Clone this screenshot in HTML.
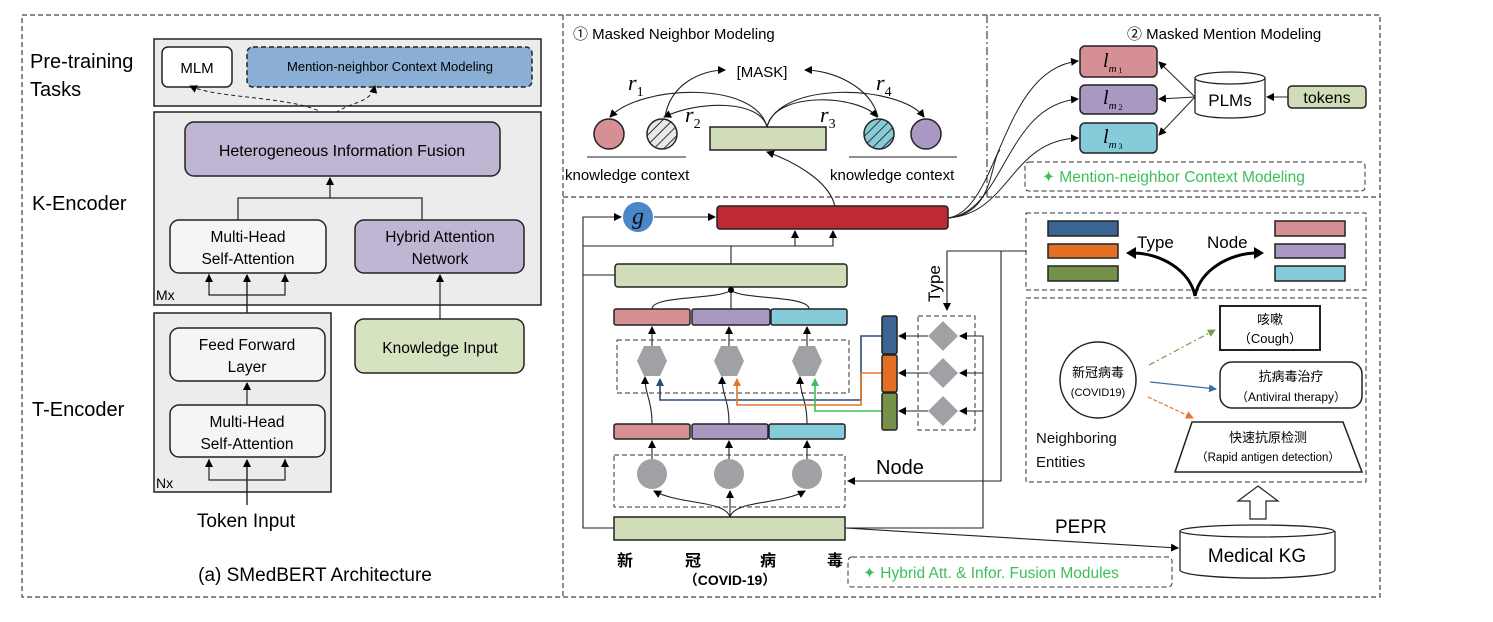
<!DOCTYPE html>
<html><head><meta charset="utf-8"><style>
html,body{margin:0;padding:0;background:#fff;}
svg{display:block;}
text{font-family:"Liberation Sans","Noto Sans CJK SC",sans-serif;}
.s{font-family:"Liberation Serif",serif;font-style:italic;}
</style></head><body>
<svg width="1493" height="622" viewBox="0 0 1493 622" xmlns="http://www.w3.org/2000/svg">
<defs>
<marker id="a" markerWidth="8" markerHeight="8" refX="7" refY="4" orient="auto" markerUnits="userSpaceOnUse"><path d="M0,0 L8,4 L0,8 z" fill="#000"/></marker>
<marker id="ab" markerWidth="8" markerHeight="8" refX="7" refY="4" orient="auto" markerUnits="userSpaceOnUse"><path d="M0,0 L8,4 L0,8 z" fill="#2c4a7a"/></marker>
<marker id="ao" markerWidth="8" markerHeight="8" refX="7" refY="4" orient="auto" markerUnits="userSpaceOnUse"><path d="M0,0 L8,4 L0,8 z" fill="#e8742a"/></marker>
<marker id="ag" markerWidth="8" markerHeight="8" refX="7" refY="4" orient="auto" markerUnits="userSpaceOnUse"><path d="M0,0 L8,4 L0,8 z" fill="#3cbf5a"/></marker>
<marker id="ae" markerWidth="8" markerHeight="8" refX="7" refY="4" orient="auto" markerUnits="userSpaceOnUse"><path d="M0,0 L8,4 L0,8 z" fill="#7a9a4a"/></marker>
<marker id="abl" markerWidth="8" markerHeight="8" refX="7" refY="4" orient="auto" markerUnits="userSpaceOnUse"><path d="M0,0 L8,4 L0,8 z" fill="#3d6ea8"/></marker>
<pattern id="h1" patternUnits="userSpaceOnUse" width="7" height="7" patternTransform="rotate(45)"><rect width="7" height="7" fill="#e8e8e8"/><line x1="0" y1="0" x2="0" y2="7" stroke="#333" stroke-width="2"/></pattern>
<pattern id="h2" patternUnits="userSpaceOnUse" width="7" height="7" patternTransform="rotate(45)"><rect width="7" height="7" fill="#86cbd9"/><line x1="0" y1="0" x2="0" y2="7" stroke="#333" stroke-width="2"/></pattern>
</defs>

<g fill="none" stroke="#444" stroke-width="1.2" stroke-dasharray="5,3">
<rect x="22" y="15" width="1358" height="582"/>
<line x1="563" y1="15" x2="563" y2="597"/>
<line x1="563" y1="197" x2="1380" y2="197"/>
</g>
<line x1="987" y1="15" x2="987" y2="197" stroke="#444" stroke-width="1.2" stroke-dasharray="8,3,2,3"/>

<rect x="154" y="39" width="387" height="67" fill="#ececec" stroke="#222" stroke-width="1.5"/>
<rect x="162" y="47" width="70" height="40" rx="6" fill="#fff" stroke="#222" stroke-width="1.5"/>
<text x="197" y="73" font-size="15" text-anchor="middle">MLM</text>
<rect x="247" y="47" width="285" height="40" rx="6" fill="#8aaed4" stroke="#222" stroke-width="1.5" stroke-dasharray="5,3"/>
<text x="390" y="71" font-size="13" text-anchor="middle">Mention-neighbor Context Modeling</text>
<text x="30" y="68" font-size="20">Pre-training</text>
<text x="30" y="96" font-size="20">Tasks</text>
<path d="M330,117 C300,95 220,100 190,86" fill="none" stroke="#222" stroke-dasharray="4,3" marker-end="url(#a)"/>
<path d="M330,117 C350,100 370,105 375,86" fill="none" stroke="#222" stroke-dasharray="4,3" marker-end="url(#a)"/>

<rect x="154" y="112" width="387" height="193" fill="#ececec" stroke="#222" stroke-width="1.5"/>
<rect x="185" y="122" width="315" height="54" rx="9" fill="#c0b5d2" stroke="#222" stroke-width="1.5"/>
<text x="342" y="156" font-size="16" text-anchor="middle">Heterogeneous Information Fusion</text>
<text x="32" y="210" font-size="20">K-Encoder</text>
<path d="M238,220 V198 H422 V220 M330,198 V178" fill="none" stroke="#222" stroke-width="1.2"/>
<line x1="330" y1="198" x2="330" y2="178" stroke="#222" marker-end="url(#a)"/>
<rect x="170" y="220" width="156" height="53" rx="9" fill="#f5f5f5" stroke="#222" stroke-width="1.5"/>
<text x="248" y="242" font-size="15.5" text-anchor="middle">Multi-Head</text>
<text x="248" y="264" font-size="15.5" text-anchor="middle">Self-Attention</text>
<rect x="355" y="220" width="169" height="53" rx="9" fill="#c0b5d2" stroke="#222" stroke-width="1.5"/>
<text x="440" y="242" font-size="15.5" text-anchor="middle">Hybrid Attention</text>
<text x="440" y="264" font-size="15.5" text-anchor="middle">Network</text>
<text x="156" y="300" font-size="14">Mx</text>
<path d="M209,274 V295 H285 V274" fill="none" stroke="#222" stroke-width="1.2"/>
<line x1="209" y1="295" x2="209" y2="275" stroke="#222" marker-end="url(#a)"/>
<line x1="285" y1="295" x2="285" y2="275" stroke="#222" marker-end="url(#a)"/>
<line x1="247" y1="328" x2="247" y2="275" stroke="#222" stroke-width="1.4" marker-end="url(#a)"/>
<line x1="440" y1="319" x2="440" y2="275" stroke="#222" stroke-width="1.2" marker-end="url(#a)"/>

<rect x="154" y="313" width="177" height="179" fill="#ececec" stroke="#222" stroke-width="1.5"/>
<rect x="170" y="328" width="155" height="53" rx="9" fill="#f5f5f5" stroke="#222" stroke-width="1.5"/>
<text x="247" y="350" font-size="15.5" text-anchor="middle">Feed Forward</text>
<text x="247" y="372" font-size="15.5" text-anchor="middle">Layer</text>
<line x1="247" y1="405" x2="247" y2="383" stroke="#222" stroke-width="1.2" marker-end="url(#a)"/>
<rect x="170" y="405" width="155" height="52" rx="9" fill="#f5f5f5" stroke="#222" stroke-width="1.5"/>
<text x="247" y="427" font-size="15.5" text-anchor="middle">Multi-Head</text>
<text x="247" y="449" font-size="15.5" text-anchor="middle">Self-Attention</text>
<text x="156" y="488" font-size="14">Nx</text>
<path d="M209,459 V480 H285 V459" fill="none" stroke="#222" stroke-width="1.2"/>
<line x1="209" y1="480" x2="209" y2="460" stroke="#222" marker-end="url(#a)"/>
<line x1="285" y1="480" x2="285" y2="460" stroke="#222" marker-end="url(#a)"/>
<line x1="247" y1="505" x2="247" y2="460" stroke="#222" stroke-width="1.4" marker-end="url(#a)"/>
<text x="32" y="416" font-size="20">T-Encoder</text>
<rect x="355" y="319" width="169" height="54" rx="9" fill="#d5e3c0" stroke="#222" stroke-width="1.5"/>
<text x="440" y="353" font-size="15.5" text-anchor="middle">Knowledge Input</text>
<text x="246" y="527" font-size="19" text-anchor="middle">Token Input</text>
<text x="315" y="581" font-size="19" text-anchor="middle">(a) SMedBERT Architecture</text>

<text x="573" y="39" font-size="15">① Masked Neighbor Modeling</text>
<text x="762" y="77" font-size="15" text-anchor="middle">[MASK]</text>
<circle cx="609" cy="134" r="15" fill="#d68f92" stroke="#222" stroke-width="1.5"/>
<circle cx="662" cy="134" r="15" fill="url(#h1)" stroke="#222" stroke-width="1.5"/>
<circle cx="879" cy="134" r="15" fill="url(#h2)" stroke="#222" stroke-width="1.5"/>
<circle cx="926" cy="134" r="15" fill="#a898c2" stroke="#222" stroke-width="1.5"/>
<rect x="710" y="127" width="116" height="23" fill="#d0ddb8" stroke="#222" stroke-width="1.5"/>
<line x1="587" y1="157" x2="686" y2="157" stroke="#222"/>
<line x1="849" y1="157" x2="957" y2="157" stroke="#222"/>
<text x="565" y="180" font-size="15">knowledge context</text>
<text x="830" y="180" font-size="15">knowledge context</text>
<text x="628" y="90" font-size="22" class="s">r<tspan font-size="14" dy="6" font-style="normal">1</tspan></text>
<text x="685" y="122" font-size="22" class="s">r<tspan font-size="14" dy="6" font-style="normal">2</tspan></text>
<text x="820" y="122" font-size="22" class="s">r<tspan font-size="14" dy="6" font-style="normal">3</tspan></text>
<text x="876" y="90" font-size="22" class="s">r<tspan font-size="14" dy="6" font-style="normal">4</tspan></text>
<g fill="none" stroke="#222" stroke-width="1.1">
<path d="M767,127 C755,80 640,85 610,117" marker-end="url(#a)"/>
<path d="M767,127 C760,100 700,100 664,117" marker-end="url(#a)"/>
<path d="M767,127 C775,90 860,95 877,117" marker-end="url(#a)"/>
<path d="M767,127 C780,80 900,85 924,117" marker-end="url(#a)"/>
<path d="M665,117 C670,85 700,70 725,70" marker-end="url(#a)"/>
<path d="M878,117 C870,85 830,70 805,70" marker-end="url(#a)"/>
<path d="M835,207 C830,180 790,160 767,152" marker-end="url(#a)"/>
</g>

<text x="1127" y="39" font-size="15">② Masked Mention Modeling</text>
<rect x="1080" y="46" width="77" height="31" rx="5" fill="#d68f92" stroke="#222" stroke-width="1.5"/>
<rect x="1080" y="85" width="77" height="29" rx="5" fill="#a898c2" stroke="#222" stroke-width="1.5"/>
<rect x="1080" y="123" width="77" height="30" rx="5" fill="#86cbd9" stroke="#222" stroke-width="1.5"/>
<text x="1103" y="67" font-size="20" class="s">l<tspan font-size="11" dy="5">m</tspan><tspan font-size="8" dy="1" font-style="normal"> 1</tspan></text>
<text x="1103" y="104" font-size="20" class="s">l<tspan font-size="11" dy="5">m</tspan><tspan font-size="8" dy="1" font-style="normal"> 2</tspan></text>
<text x="1103" y="143" font-size="20" class="s">l<tspan font-size="11" dy="5">m</tspan><tspan font-size="8" dy="1" font-style="normal"> 3</tspan></text>
<path d="M1195,78 V112 A35,6 0 0 0 1265,112 V78" fill="#fff" stroke="#222" stroke-width="1.3"/>
<ellipse cx="1230" cy="78" rx="35" ry="6" fill="#fff" stroke="#222" stroke-width="1.3"/>
<text x="1230" y="106" font-size="17" text-anchor="middle">PLMs</text>
<rect x="1288" y="86" width="78" height="22" rx="4" fill="#d0ddb8" stroke="#222" stroke-width="1.5"/>
<text x="1327" y="103" font-size="16" text-anchor="middle">tokens</text>
<g stroke="#222" fill="none" stroke-width="1">
<line x1="1288" y1="97" x2="1267" y2="97" marker-end="url(#a)"/>
<line x1="1195" y1="97" x2="1159" y2="62" marker-end="url(#a)"/>
<line x1="1195" y1="97" x2="1159" y2="99" marker-end="url(#a)"/>
<line x1="1195" y1="97" x2="1159" y2="135" marker-end="url(#a)"/>
<path d="M948,218 C1000,210 1000,70 1078,61" marker-end="url(#a)"/>
<path d="M948,218 C1005,212 1005,105 1078,99" marker-end="url(#a)"/>
<path d="M948,218 C1010,214 1010,140 1078,138" marker-end="url(#a)"/>
<path d="M948,218 C995,214 990,160 1000,150"/>
</g>
<rect x="1025" y="162" width="340" height="29" rx="4" fill="none" stroke="#333" stroke-dasharray="5,3"/>
<text x="1042" y="182" font-size="15.5" fill="#3cbf5a">✦ Mention-neighbor Context Modeling</text>

<circle cx="638" cy="217" r="15" fill="#4a86c8"/>
<text x="638" y="224" font-size="24" class="s" text-anchor="middle" fill="#111">g</text>
<rect x="717" y="206" width="231" height="23" rx="3" fill="#be2a32" stroke="#222" stroke-width="1.5"/>
<g stroke="#222" fill="none" stroke-width="1.1">
<path d="M614,528 H583 V217 H621" marker-end="url(#a)"/>
<line x1="654" y1="217" x2="715" y2="217" marker-end="url(#a)"/>
<path d="M583,246 H833 V231" marker-end="url(#a)"/>
<line x1="795" y1="246" x2="795" y2="231" marker-end="url(#a)"/>
<line x1="731" y1="264" x2="731" y2="246"/>
<line x1="583" y1="275" x2="615" y2="275"/>
</g>
<rect x="615" y="264" width="232" height="23" rx="3" fill="#d0ddb8" stroke="#222" stroke-width="1.5"/>
<g stroke="#222" fill="none" stroke-width="1.1">
<path d="M652,309 C652,295 720,300 731,290"/>
<path d="M809,309 C809,295 740,300 731,290"/>
<line x1="731" y1="309" x2="731" y2="290"/>
</g>
<circle cx="731" cy="290" r="3" fill="#000"/>
<rect x="614" y="309" width="76" height="16" rx="2" fill="#d68f92" stroke="#222" stroke-width="1.5"/>
<rect x="692" y="309" width="78" height="16" rx="2" fill="#a898c2" stroke="#222" stroke-width="1.5"/>
<rect x="771" y="309" width="76" height="16" rx="2" fill="#86cbd9" stroke="#222" stroke-width="1.5"/>
<rect x="617" y="340" width="232" height="53" fill="none" stroke="#333" stroke-dasharray="5,3"/>
<g fill="#a0a1a4">
<polygon points="637,361 644,346 660,346 667,361 660,376 644,376"/>
<polygon points="714,361 721,346 737,346 744,361 737,376 721,376"/>
<polygon points="792,361 799,346 815,346 822,361 815,376 799,376"/>
</g>
<g stroke="#222" fill="none" stroke-width="1.1">
<line x1="652" y1="346" x2="652" y2="327" marker-end="url(#a)"/>
<line x1="729" y1="346" x2="729" y2="327" marker-end="url(#a)"/>
<line x1="807" y1="346" x2="807" y2="327" marker-end="url(#a)"/>
<path d="M652,424 C652,400 645,395 645,377" marker-end="url(#a)"/>
<path d="M729,424 C729,400 722,395 722,377" marker-end="url(#a)"/>
<path d="M807,424 C807,400 800,395 800,377" marker-end="url(#a)"/>
</g>
<path d="M882,336 H861 V400 H660 V379" fill="none" stroke="#2c4a7a" stroke-width="1.6" marker-end="url(#ab)"/>
<path d="M882,373 H861 V405 H737 V379" fill="none" stroke="#e8742a" stroke-width="1.6" marker-end="url(#ao)"/>
<path d="M882,411 H815 V379" fill="none" stroke="#3cbf5a" stroke-width="1.6" marker-end="url(#ag)"/>
<rect x="614" y="424" width="76" height="15" rx="2" fill="#d68f92" stroke="#222" stroke-width="1.5"/>
<rect x="692" y="424" width="76" height="15" rx="2" fill="#a898c2" stroke="#222" stroke-width="1.5"/>
<rect x="769" y="424" width="76" height="15" rx="2" fill="#86cbd9" stroke="#222" stroke-width="1.5"/>
<rect x="614" y="455" width="231" height="52" fill="none" stroke="#333" stroke-dasharray="5,3"/>
<g fill="#a0a1a4"><circle cx="652" cy="474" r="15"/><circle cx="729" cy="474" r="15"/><circle cx="807" cy="474" r="15"/></g>
<g stroke="#222" fill="none" stroke-width="1.1">
<line x1="652" y1="459" x2="652" y2="441" marker-end="url(#a)"/>
<line x1="729" y1="459" x2="729" y2="441" marker-end="url(#a)"/>
<line x1="807" y1="459" x2="807" y2="441" marker-end="url(#a)"/>
<path d="M730,517 C725,500 680,505 654,491" marker-end="url(#a)"/>
<line x1="730" y1="517" x2="730" y2="491" marker-end="url(#a)"/>
<path d="M730,517 C735,500 780,505 805,491" marker-end="url(#a)"/>
</g>
<rect x="614" y="517" width="231" height="23" fill="#d0ddb8" stroke="#222" stroke-width="1.5"/>
<g font-size="16" font-weight="bold" font-family="'Noto Sans CJK SC',sans-serif">
<text x="617" y="566">新</text><text x="685" y="566">冠</text><text x="760" y="566">病</text><text x="827" y="566">毒</text>
</g>
<text x="730" y="585" font-size="14" font-weight="bold" text-anchor="middle">（COVID-19）</text>

<rect x="882" y="316" width="15" height="38" rx="2" fill="#3d6593" stroke="#222" stroke-width="1.5"/>
<rect x="882" y="355" width="15" height="37" rx="2" fill="#e36f25" stroke="#222" stroke-width="1.5"/>
<rect x="882" y="393" width="15" height="37" rx="2" fill="#76924a" stroke="#222" stroke-width="1.5"/>
<rect x="918" y="316" width="57" height="114" fill="none" stroke="#333" stroke-dasharray="5,3"/>
<g fill="#a0a1a4">
<polygon points="943,321 958,336 943,351 928,336"/>
<polygon points="943,358 958,373 943,388 928,373"/>
<polygon points="943,396 958,411 943,426 928,411"/>
</g>
<g stroke="#222" fill="none" stroke-width="1.1">
<line x1="928" y1="336" x2="899" y2="336" marker-end="url(#a)"/>
<line x1="928" y1="373" x2="899" y2="373" marker-end="url(#a)"/>
<line x1="928" y1="411" x2="899" y2="411" marker-end="url(#a)"/>
<path d="M845,528 H983 V336 H960" marker-end="url(#a)"/>
<line x1="983" y1="373" x2="960" y2="373" marker-end="url(#a)"/>
<line x1="983" y1="411" x2="960" y2="411" marker-end="url(#a)"/>
<path d="M1026,251 H947 V310" marker-end="url(#a)"/>
<path d="M1001,251 V481 H848" marker-end="url(#a)"/>
<path d="M845,528 L1178,548" marker-end="url(#a)"/>
</g>
<text x="940" y="302" font-size="17" transform="rotate(-90 940 302)">Type</text>
<text x="876" y="474" font-size="20">Node</text>
<rect x="848" y="557" width="324" height="30" rx="4" fill="none" stroke="#333" stroke-dasharray="5,3"/>
<text x="863" y="578" font-size="15.5" fill="#3cbf5a">✦ Hybrid Att. &amp; Infor. Fusion Modules</text>

<rect x="1026" y="213" width="340" height="77" fill="none" stroke="#333" stroke-dasharray="5,3"/>
<rect x="1048" y="221" width="70" height="15" fill="#3d6593" stroke="#222" stroke-width="1.5"/>
<rect x="1048" y="244" width="70" height="14" fill="#e36f25" stroke="#222" stroke-width="1.5"/>
<rect x="1048" y="266" width="70" height="15" fill="#76924a" stroke="#222" stroke-width="1.5"/>
<rect x="1275" y="221" width="70" height="15" fill="#d68f92" stroke="#222" stroke-width="1.5"/>
<rect x="1275" y="244" width="70" height="14" fill="#a898c2" stroke="#222" stroke-width="1.5"/>
<rect x="1275" y="266" width="70" height="15" fill="#86cbd9" stroke="#222" stroke-width="1.5"/>
<text x="1137" y="248" font-size="17">Type</text>
<text x="1207" y="248" font-size="17">Node</text>
<g fill="none" stroke="#000" stroke-width="3">
<path d="M1195,296 C1190,270 1160,253 1133,253"/>
<path d="M1195,296 C1200,270 1230,253 1257,253"/>
</g>
<path d="M1126,253 L1136,247 L1136,259 z" fill="#000"/>
<path d="M1264,253 L1254,247 L1254,259 z" fill="#000"/>
<rect x="1026" y="298" width="340" height="184" fill="none" stroke="#333" stroke-dasharray="5,3"/>
<circle cx="1098" cy="380" r="38" fill="#fff" stroke="#222" stroke-width="1.5"/>
<text x="1098" y="377" font-size="13" text-anchor="middle">新冠病毒</text>
<text x="1098" y="396" font-size="11" text-anchor="middle">(COVID19)</text>
<rect x="1220" y="306" width="100" height="44" fill="#fff" stroke="#222" stroke-width="2"/>
<text x="1270" y="324" font-size="13" text-anchor="middle">咳嗽</text>
<text x="1270" y="343" font-size="13" text-anchor="middle">（Cough）</text>
<rect x="1220" y="362" width="142" height="46" rx="12" fill="#fff" stroke="#222" stroke-width="1.5"/>
<text x="1291" y="381" font-size="13" text-anchor="middle">抗病毒治疗</text>
<text x="1291" y="401" font-size="12" text-anchor="middle">（Antiviral therapy）</text>
<polygon points="1192,422 1343,422 1362,472 1175,472" fill="#fff" stroke="#222" stroke-width="1.5"/>
<text x="1268" y="442" font-size="13" text-anchor="middle">快速抗原检测</text>
<text x="1268" y="461" font-size="11.5" text-anchor="middle">（Rapid antigen detection）</text>
<text x="1036" y="443" font-size="15" fill="#111">Neighboring</text>
<text x="1036" y="467" font-size="15" fill="#111">Entities</text>
<line x1="1149" y1="365" x2="1215" y2="330" stroke="#7a9a4a" stroke-width="1.2" stroke-dasharray="6,3,2,3" marker-end="url(#ae)"/>
<line x1="1150" y1="382" x2="1216" y2="389" stroke="#3d6ea8" stroke-width="1.2" marker-end="url(#abl)"/>
<line x1="1148" y1="397" x2="1193" y2="418" stroke="#e8742a" stroke-width="1.2" stroke-dasharray="4,2" marker-end="url(#ao)"/>
<polygon points="1258,486 1278,501 1266,501 1266,519 1250,519 1250,501 1238,501" fill="#fff" stroke="#222" stroke-width="1.2"/>
<path d="M1180,531 V570 A77,8 0 0 0 1335,570 V531" fill="#fff" stroke="#222" stroke-width="1.3"/>
<ellipse cx="1257" cy="531" rx="77" ry="6" fill="#fff" stroke="#222" stroke-width="1.3"/>
<text x="1257" y="562" font-size="19" text-anchor="middle">Medical KG</text>
<text x="1055" y="533" font-size="19">PEPR</text>
</svg>
</body></html>
